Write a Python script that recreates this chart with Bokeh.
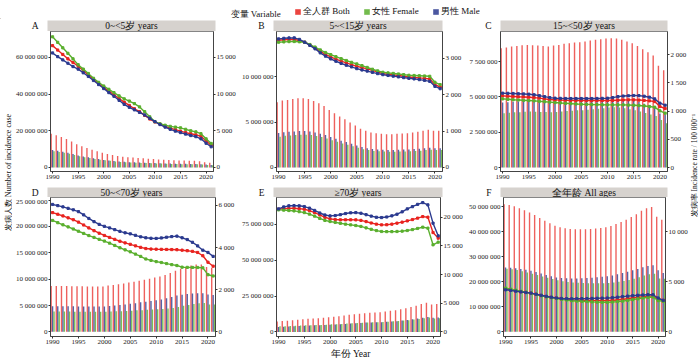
import math
from bokeh.plotting import figure
from bokeh.models import (Range1d, LinearAxis, FixedTicker, Label, Legend, LegendItem,
                          ColumnDataSource, CustomJSTickFormatter)
from bokeh.layouts import column, row
from bokeh.transform import dodge
from bokeh.embed import file_html
from bokeh.resources import INLINE

# ---------------- data ----------------
years = list(range(1990, 2022))
x_ticks = [1990, 1995, 2000, 2005, 2010, 2015, 2020]

# counts in millions, rates per 100 000
A_both_n = [18.4,17.5,16.6,15.5,14.1,12.6,11.6,10.6,9.6,8.8,8.0,7.4,6.8,6.3,5.9,5.6,5.4,5.2,5.0,4.8,4.6,4.4,4.2,4.0,3.9,3.8,3.8,3.7,3.6,3.4,2.9,2.6]
A_female_n = [8.9,8.4,8.0,7.5,6.8,6.1,5.6,5.1,4.6,4.2,3.9,3.6,3.3,3.0,2.8,2.7,2.6,2.5,2.4,2.3,2.2,2.1,2.0,1.9,1.85,1.8,1.8,1.75,1.7,1.6,1.35,1.2]
A_male_n = [9.5,9.1,8.6,8.0,7.3,6.5,6.0,5.5,5.0,4.6,4.1,3.8,3.5,3.3,3.1,2.9,2.8,2.7,2.6,2.5,2.4,2.3,2.2,2.1,2.05,2.0,2.0,1.95,1.9,1.8,1.55,1.4]
A_both_r = [16600,16000,15400,14800,14300,13800,13200,12600,12000,11400,10900,10400,9900,9400,8900,8450,8000,7600,7100,6600,6200,5900,5600,5350,5150,4950,4750,4600,4450,4250,3600,3050]
A_female_r = [17800,17050,16300,15550,14800,14000,13400,12800,12150,11600,11100,10650,10200,9750,9350,9050,8700,8250,7600,6900,6250,5950,5750,5600,5500,5400,5200,5000,4850,4600,3900,3270]
A_male_r = [15600,15100,14650,14200,13750,13400,12900,12400,11850,11300,10750,10200,9700,9150,8600,8200,7850,7500,7150,6700,6250,5850,5500,5200,4950,4750,4550,4350,4200,3900,3300,2820]

B_both_n = [7.17,7.36,7.43,7.54,7.61,7.61,7.54,7.32,7.06,6.77,6.33,5.97,5.60,5.30,4.94,4.61,4.25,4.03,3.84,3.77,3.70,3.66,3.66,3.70,3.73,3.77,3.84,3.92,4.03,4.14,4.03,4.03]
B_female_n = [3.39,3.48,3.51,3.57,3.60,3.60,3.57,3.46,3.34,3.20,2.99,2.82,2.65,2.51,2.34,2.18,2.01,1.91,1.82,1.78,1.75,1.73,1.73,1.75,1.76,1.78,1.82,1.85,1.91,1.96,1.91,1.91]
B_male_n = [3.78,3.88,3.92,3.97,4.01,4.01,3.97,3.86,3.72,3.57,3.34,3.15,2.95,2.79,2.60,2.43,2.24,2.12,2.02,1.99,1.95,1.93,1.93,1.95,1.97,1.99,2.02,2.07,2.12,2.18,2.12,2.12]
B_both_r = [3498,3510,3516,3516,3490,3443,3370,3286,3190,3110,3039,2980,2925,2875,2825,2782,2745,2710,2670,2625,2580,2562,2545,2528,2508,2488,2475,2462,2450,2433,2277,2212]
B_female_r = [3443,3452,3460,3462,3455,3443,3380,3310,3230,3160,3103,3045,2990,2940,2890,2846,2800,2750,2700,2655,2617,2600,2585,2570,2552,2534,2528,2522,2515,2506,2341,2277]
B_male_r = [3534,3550,3560,3562,3520,3443,3355,3262,3150,3060,2984,2920,2860,2810,2765,2717,2680,2650,2615,2580,2552,2530,2510,2490,2470,2451,2435,2415,2395,2368,2231,2166]

C_both_n = [8.45,8.50,8.57,8.60,8.66,8.68,8.66,8.64,8.61,8.57,8.64,8.68,8.76,8.80,8.85,8.87,8.92,8.99,9.04,9.09,9.13,9.16,9.13,9.04,8.92,8.80,8.61,8.38,8.17,7.93,7.20,6.89]
C_female_n = [3.85,3.87,3.91,3.92,3.95,3.96,3.95,3.94,3.93,3.91,3.94,3.96,4.00,4.02,4.05,4.06,4.09,4.13,4.16,4.19,4.25,4.26,4.25,4.20,4.12,4.06,3.97,3.86,3.76,3.65,3.37,3.14]
C_male_n = [4.60,4.63,4.66,4.68,4.71,4.72,4.71,4.70,4.68,4.66,4.70,4.72,4.76,4.78,4.80,4.81,4.83,4.86,4.88,4.90,4.88,4.90,4.88,4.84,4.80,4.74,4.64,4.52,4.41,4.28,3.83,3.75]
C_both_r = [1268,1262,1257,1252,1249,1245,1238,1228,1215,1205,1198,1194,1191,1189,1187,1186,1186,1186,1186,1186,1186,1188,1192,1196,1198,1198,1194,1188,1180,1168,1080,1044]
C_female_r = [1215,1208,1200,1195,1190,1186,1180,1172,1165,1157,1150,1143,1137,1131,1125,1121,1118,1115,1113,1111,1109,1109,1109,1109,1106,1103,1098,1090,1080,1068,1003,962]
C_male_r = [1316,1313,1310,1306,1302,1298,1288,1272,1255,1238,1227,1224,1222,1221,1221,1221,1221,1221,1222,1224,1227,1238,1255,1265,1270,1274,1272,1262,1245,1215,1139,1103]

D_both_n = [8.72,8.72,8.70,8.70,8.68,8.66,8.64,8.62,8.60,8.60,8.62,8.78,8.90,9.03,9.16,9.35,9.53,9.72,9.90,10.10,10.30,10.50,10.80,11.15,11.60,12.00,12.30,12.60,12.80,12.80,12.30,12.15]
D_female_n = [3.86,3.86,3.85,3.85,3.84,3.83,3.82,3.81,3.80,3.80,3.80,3.86,3.90,3.93,3.96,4.03,4.08,4.12,4.18,4.24,4.30,4.35,4.43,4.53,4.70,4.95,5.10,5.30,5.45,5.48,5.20,5.17]
D_male_n = [4.86,4.86,4.85,4.85,4.84,4.83,4.82,4.81,4.80,4.80,4.82,4.92,5.00,5.10,5.20,5.32,5.45,5.60,5.72,5.86,6.00,6.15,6.37,6.62,6.90,7.05,7.20,7.30,7.35,7.32,7.10,6.98]
D_both_r = [5658,5580,5500,5410,5320,5208,5070,4930,4800,4680,4573,4480,4390,4300,4220,4154,4080,4010,3953,3930,3922,3915,3910,3905,3898,3875,3850,3820,3767,3612,3302,3116]
D_female_r = [5286,5180,5080,4980,4880,4774,4670,4570,4480,4390,4309,4210,4100,3990,3890,3798,3690,3580,3457,3390,3333,3290,3240,3190,3147,3069,3060,3057,3054,3038,2712,2651]
D_male_r = [6045,5990,5930,5860,5790,5704,5550,5380,5230,5100,5007,4930,4850,4770,4700,4650,4580,4510,4464,4440,4433,4455,4490,4520,4542,4464,4380,4250,4077,3875,3767,3581]

E_both_n = [7.3,7.6,7.8,8.2,8.5,8.9,9.2,9.4,9.6,9.85,10.3,10.5,11.0,11.45,11.9,12.4,12.6,13.1,13.3,13.5,13.7,14.2,14.7,15.1,15.8,16.5,17.4,18.3,19.5,20.4,19.2,19.5]
E_female_n = [3.9,4.0,4.1,4.3,4.4,4.6,4.7,4.8,4.9,5.05,5.3,5.4,5.6,5.85,6.1,6.3,6.4,6.6,6.7,6.8,6.9,7.1,7.4,7.6,7.9,8.2,8.6,9.0,9.6,10.0,9.4,9.5]
E_male_n = [3.4,3.6,3.7,3.9,4.1,4.3,4.5,4.6,4.7,4.8,5.0,5.1,5.4,5.6,5.8,6.1,6.2,6.5,6.6,6.7,6.8,7.1,7.3,7.5,7.9,8.3,8.8,9.3,9.9,10.4,9.8,10.0]
E_both_r = [21400,21500,21560,21570,21500,21400,21150,20800,20400,20000,19720,19600,19560,19560,19560,19550,19450,19250,19000,18800,18680,18700,18800,18970,19150,19370,19600,19850,20120,20010,17340,16360]
E_female_r = [21290,21250,21180,21110,20980,20820,20550,20200,19800,19450,19260,19100,18950,18800,18680,18560,18400,18150,17900,17680,17520,17500,17500,17520,17580,17690,17850,18050,18270,18100,15200,15660]
E_male_r = [21460,21800,22000,22040,22000,21870,21600,21200,20750,20400,20240,20300,20450,20650,20780,20820,20700,20450,20200,20000,19950,20050,20250,20530,20950,21460,21850,22250,22560,22160,18970,16760]

F_both_n = [51.1,50.8,50.3,49.5,48.7,47.8,46.8,45.6,44.5,43.5,42.5,41.9,41.5,41.2,41.1,41.1,41.1,41.2,41.4,41.6,41.9,42.4,43.2,44.0,44.9,46.0,47.1,48.5,49.5,50.0,46.1,44.9]
F_female_n = [25.3,25.1,24.8,24.3,23.8,23.3,22.8,22.2,21.7,21.2,20.7,20.3,20.0,19.8,19.7,19.6,19.5,19.5,19.5,19.5,19.6,19.8,20.1,20.4,20.8,21.3,21.9,22.6,23.1,23.3,21.4,21.3]
F_male_n = [25.8,25.7,25.5,25.2,24.9,24.5,24.0,23.4,22.8,22.3,21.8,21.6,21.5,21.4,21.4,21.5,21.6,21.7,21.9,22.1,22.3,22.6,23.1,23.6,24.1,24.7,25.2,25.9,26.4,26.7,24.7,23.6]
F_both_r = [4310,4220,4120,4020,3950,3882,3760,3640,3530,3450,3389,3310,3250,3200,3170,3158,3145,3135,3128,3126,3126,3150,3190,3250,3320,3389,3450,3510,3553,3619,3290,3158]
F_female_r = [4376,4280,4170,4060,3970,3882,3750,3620,3500,3420,3360,3270,3190,3120,3080,3060,3030,3000,2980,2965,2961,2990,3030,3080,3150,3224,3300,3390,3455,3487,3126,3060]
F_male_r = [4211,4150,4070,4000,3940,3882,3770,3660,3560,3470,3389,3340,3320,3310,3315,3323,3330,3345,3360,3375,3389,3420,3470,3530,3580,3619,3660,3690,3718,3718,3389,3158]

panel_letters = ["A", "B", "C", "D", "E", "F"]
panel_titles = ["0~<5岁 years", "5~<15岁 years", "15~<50岁 years",
                "50~<70岁 years", "≥70岁 years", "全年龄 All ages"]
count_ticks = [[0, 20, 40, 60], [0, 5, 10], [0, 2.5, 5, 7.5],
               [0, 5, 10, 15, 20, 25], [0, 25, 50, 75], [0, 10, 20, 30, 40, 50]]
rate_ticks = [[0, 5000, 10000, 15000], [0, 1000, 2000, 3000], [0, 500, 1000, 1500, 2000],
              [0, 2000, 4000, 6000], [0, 5000, 10000, 15000, 20000], [0, 5000, 10000]]
count_ranges = [(-2.2, 74.1), (-0.44, 14.95), (-0.28, 9.63),
                (-0.88, 25.5), (-3.2, 93.8), (-1.86, 53.8)]
rate_per_million = 250  # secondary axis: rate = count(millions) * 250

series_labels = ["全人群 Both", "女性 Female", "男性 Male"]
legend_title = "变量 Variable"
x_title = "年份 Year"
left_title = "发病人数 Number of incidence case"
right_title = "发病率 Incidence rate / 100 000⁻¹"

panel_data = [
    (A_both_n, A_female_n, A_male_n, A_both_r, A_female_r, A_male_r),
    (B_both_n, B_female_n, B_male_n, B_both_r, B_female_r, B_male_r),
    (C_both_n, C_female_n, C_male_n, C_both_r, C_female_r, C_male_r),
    (D_both_n, D_female_n, D_male_n, D_both_r, D_female_r, D_male_r),
    (E_both_n, E_female_n, E_male_n, E_both_r, E_female_r, E_male_r),
    (F_both_n, F_female_n, F_male_n, F_both_r, F_female_r, F_male_r),
]

# ---------------- style ----------------
SERIF = "Liberation Serif"
RED, GREEN, BLUE = "#E8231F", "#5AAF2E", "#2B3A8F"
STRIP = "#D6D2CE"
AX = "#333333"
TICK_FS = "7px"

COUNT_FMT = r"const v = Math.round(tick * 1e6); return v.toString().replace(/\B(?=(\d{3})+(?!\d))/g, ' ');"
RATE_FMT = r"const v = Math.round(tick); return v.toString().replace(/\B(?=(\d{3})+(?!\d))/g, ' ');"

TOTAL_W = 698
LT_W, RT_W = 12, 8
# column geometry: (fig width, min_border_left, min_border_right)
cols = [(226, 35, 23), (227, 35, 23), (225, 35, 23)]
LEG_H = 19
STRIP_H = [12, 12]
STRIP_TOP = [1, 2]
PANEL_H = [154, 150]
PANEL_B = [14, 11]
XT_H = 11


def style_axis(ax):
    ax.axis_line_color = AX
    ax.axis_line_width = 0.8
    ax.major_tick_line_color = AX
    ax.major_tick_out = 2
    ax.major_tick_in = 0
    ax.minor_tick_line_color = None
    ax.major_label_standoff = 1
    ax.major_label_text_font = SERIF
    ax.major_label_text_font_size = TICK_FS
    ax.major_label_text_color = "#222222"


def make_strip(i, w, lb, rb, h, top):
    s = figure(width=w, height=h, x_range=Range1d(0, 1), y_range=Range1d(0, 1),
               x_axis_type=None, y_axis_type=None, output_backend="svg",
               toolbar_location=None, min_border_left=lb, min_border_right=rb,
               min_border_top=top, min_border_bottom=0, background_fill_color=STRIP,
               outline_line_color=None)
    s.xgrid.visible = False
    s.ygrid.visible = False
    lax = LinearAxis(ticker=FixedTicker(ticks=[0.5]),
                     formatter=CustomJSTickFormatter(code="return '%s';" % panel_letters[i]))
    lax.axis_line_color = None
    lax.major_tick_line_color = None
    lax.minor_tick_line_color = None
    lax.major_label_standoff = 3
    lax.major_label_text_font = SERIF
    lax.major_label_text_font_size = "9.5px"
    lax.major_label_text_color = "#111111"
    s.add_layout(lax, "left")
    s.add_layout(Label(x=0.5, y=0.5, text=panel_titles[i], text_align="center",
                       text_baseline="middle", text_font=SERIF, text_font_size="9.5px",
                       text_color="#111111"))
    return s


def make_panel(i, w, lb, rb, h, bb):
    bn, fn, mn, br, fr, mr = panel_data[i]
    lo, hi = count_ranges[i]
    p = figure(width=w, height=h, x_range=Range1d(1989.6, 2021.45), y_range=Range1d(lo, hi),
               y_axis_type=None, output_backend="svg", toolbar_location=None,
               min_border_left=lb, min_border_right=rb, min_border_top=0,
               min_border_bottom=bb, outline_line_color="#666666",
               outline_line_width=0.8)
    p.extra_y_ranges = {"rate": Range1d(lo * rate_per_million, hi * rate_per_million)}
    p.xgrid.visible = False
    src = ColumnDataSource(dict(year=years, bn=bn, fn=fn, mn=mn, br=br, fr=fr, mr=mr))

    p.vbar(x=dodge("year", -0.28, range=p.x_range), top="bn", width=0.27, source=src,
           fill_color=RED, fill_alpha=0.72, line_color=None)
    p.vbar(x=dodge("year", 0.0, range=p.x_range), top="mn", width=0.27, source=src,
           fill_color=BLUE, fill_alpha=0.8, line_color=None)
    p.vbar(x=dodge("year", 0.28, range=p.x_range), top="fn", width=0.27, source=src,
           fill_color=GREEN, fill_alpha=0.8, line_color=None)

    for col, c in (("br", RED), ("fr", GREEN), ("mr", BLUE)):
        p.line("year", col, source=src, y_range_name="rate", line_color=c, line_width=1.4)
        p.scatter("year", col, source=src, y_range_name="rate", marker="square",
                  size=2.2, fill_color=c, line_color=c)

    xa = p.xaxis[0]
    xa.ticker = FixedTicker(ticks=x_ticks)
    style_axis(xa)

    la = LinearAxis(ticker=FixedTicker(ticks=count_ticks[i]),
                    formatter=CustomJSTickFormatter(code=COUNT_FMT))
    style_axis(la)
    p.add_layout(la, "left")

    ra = LinearAxis(y_range_name="rate", ticker=FixedTicker(ticks=rate_ticks[i]),
                    formatter=CustomJSTickFormatter(code=RATE_FMT))
    style_axis(ra)
    p.add_layout(ra, "right")
    return p


def blank(w, h):
    f = figure(width=w, height=h, x_range=Range1d(0, w), y_range=Range1d(0, h),
               x_axis_type=None, y_axis_type=None, output_backend="svg",
               toolbar_location=None, min_border=0, outline_line_color=None)
    f.xgrid.visible = False
    f.ygrid.visible = False
    return f


rows = []
for r in range(2):
    strips, panels = [], []
    for c in range(3):
        i = r * 3 + c
        w, lb, rb = cols[c]
        strips.append(make_strip(i, w, lb, rb, STRIP_H[r], STRIP_TOP[r]))
        panels.append(make_panel(i, w, lb, rb, PANEL_H[r], PANEL_B[r]))
    rows.append(row(*strips))
    rows.append(row(*panels))
grid = column(*rows)

GRID_H = sum(STRIP_H) + sum(PANEL_H)

# left vertical title
lt = blank(LT_W, GRID_H)
lt.add_layout(Label(x=8, y=GRID_H - 153, text=left_title, angle=math.pi / 2,
                    text_align="center", text_baseline="middle", text_font=SERIF,
                    text_font_size="8px", text_color="#111111"))
# right vertical title
rt = blank(RT_W, GRID_H)
rt.add_layout(Label(x=4, y=GRID_H - 146, text=right_title, angle=math.pi / 2,
                    text_align="center", text_baseline="middle", text_font=SERIF,
                    text_font_size="7.5px", text_color="#111111"))

# legend row (one legend per key, placed side by side)
lg = blank(TOTAL_W, LEG_H)
legend_x = [294, 363, 432]
for lab, colr, lx in zip(series_labels, [RED, GREEN, BLUE], legend_x):
    rr = lg.vbar(x=[-100], top=[1], width=1, fill_color=colr, fill_alpha=0.85,
                 line_color=None)
    lg.add_layout(Legend(items=[LegendItem(label=lab, renderers=[rr])],
                         orientation="horizontal", location=(lx, 1), padding=0, margin=0,
                         spacing=0, glyph_width=7, glyph_height=7, label_standoff=2,
                         label_height=10, label_text_font=SERIF,
                         label_text_font_size="9px", label_text_color="#111111",
                         border_line_color=None, background_fill_alpha=0))
lg.add_layout(Label(x=230, y=LEG_H - 13, text=legend_title, text_baseline="middle",
                    text_font=SERIF, text_font_size="9px", text_color="#111111"))

# x-axis title row
xt = blank(TOTAL_W, XT_H)
xt.add_layout(Label(x=350, y=XT_H / 2, text=x_title, text_align="center",
                    text_baseline="middle", text_font=SERIF, text_font_size="9.5px",
                    text_color="#111111"))

layout = column(lg, row(lt, grid, rt), xt)

open("out.html", "w").write(file_html(layout, INLINE))
